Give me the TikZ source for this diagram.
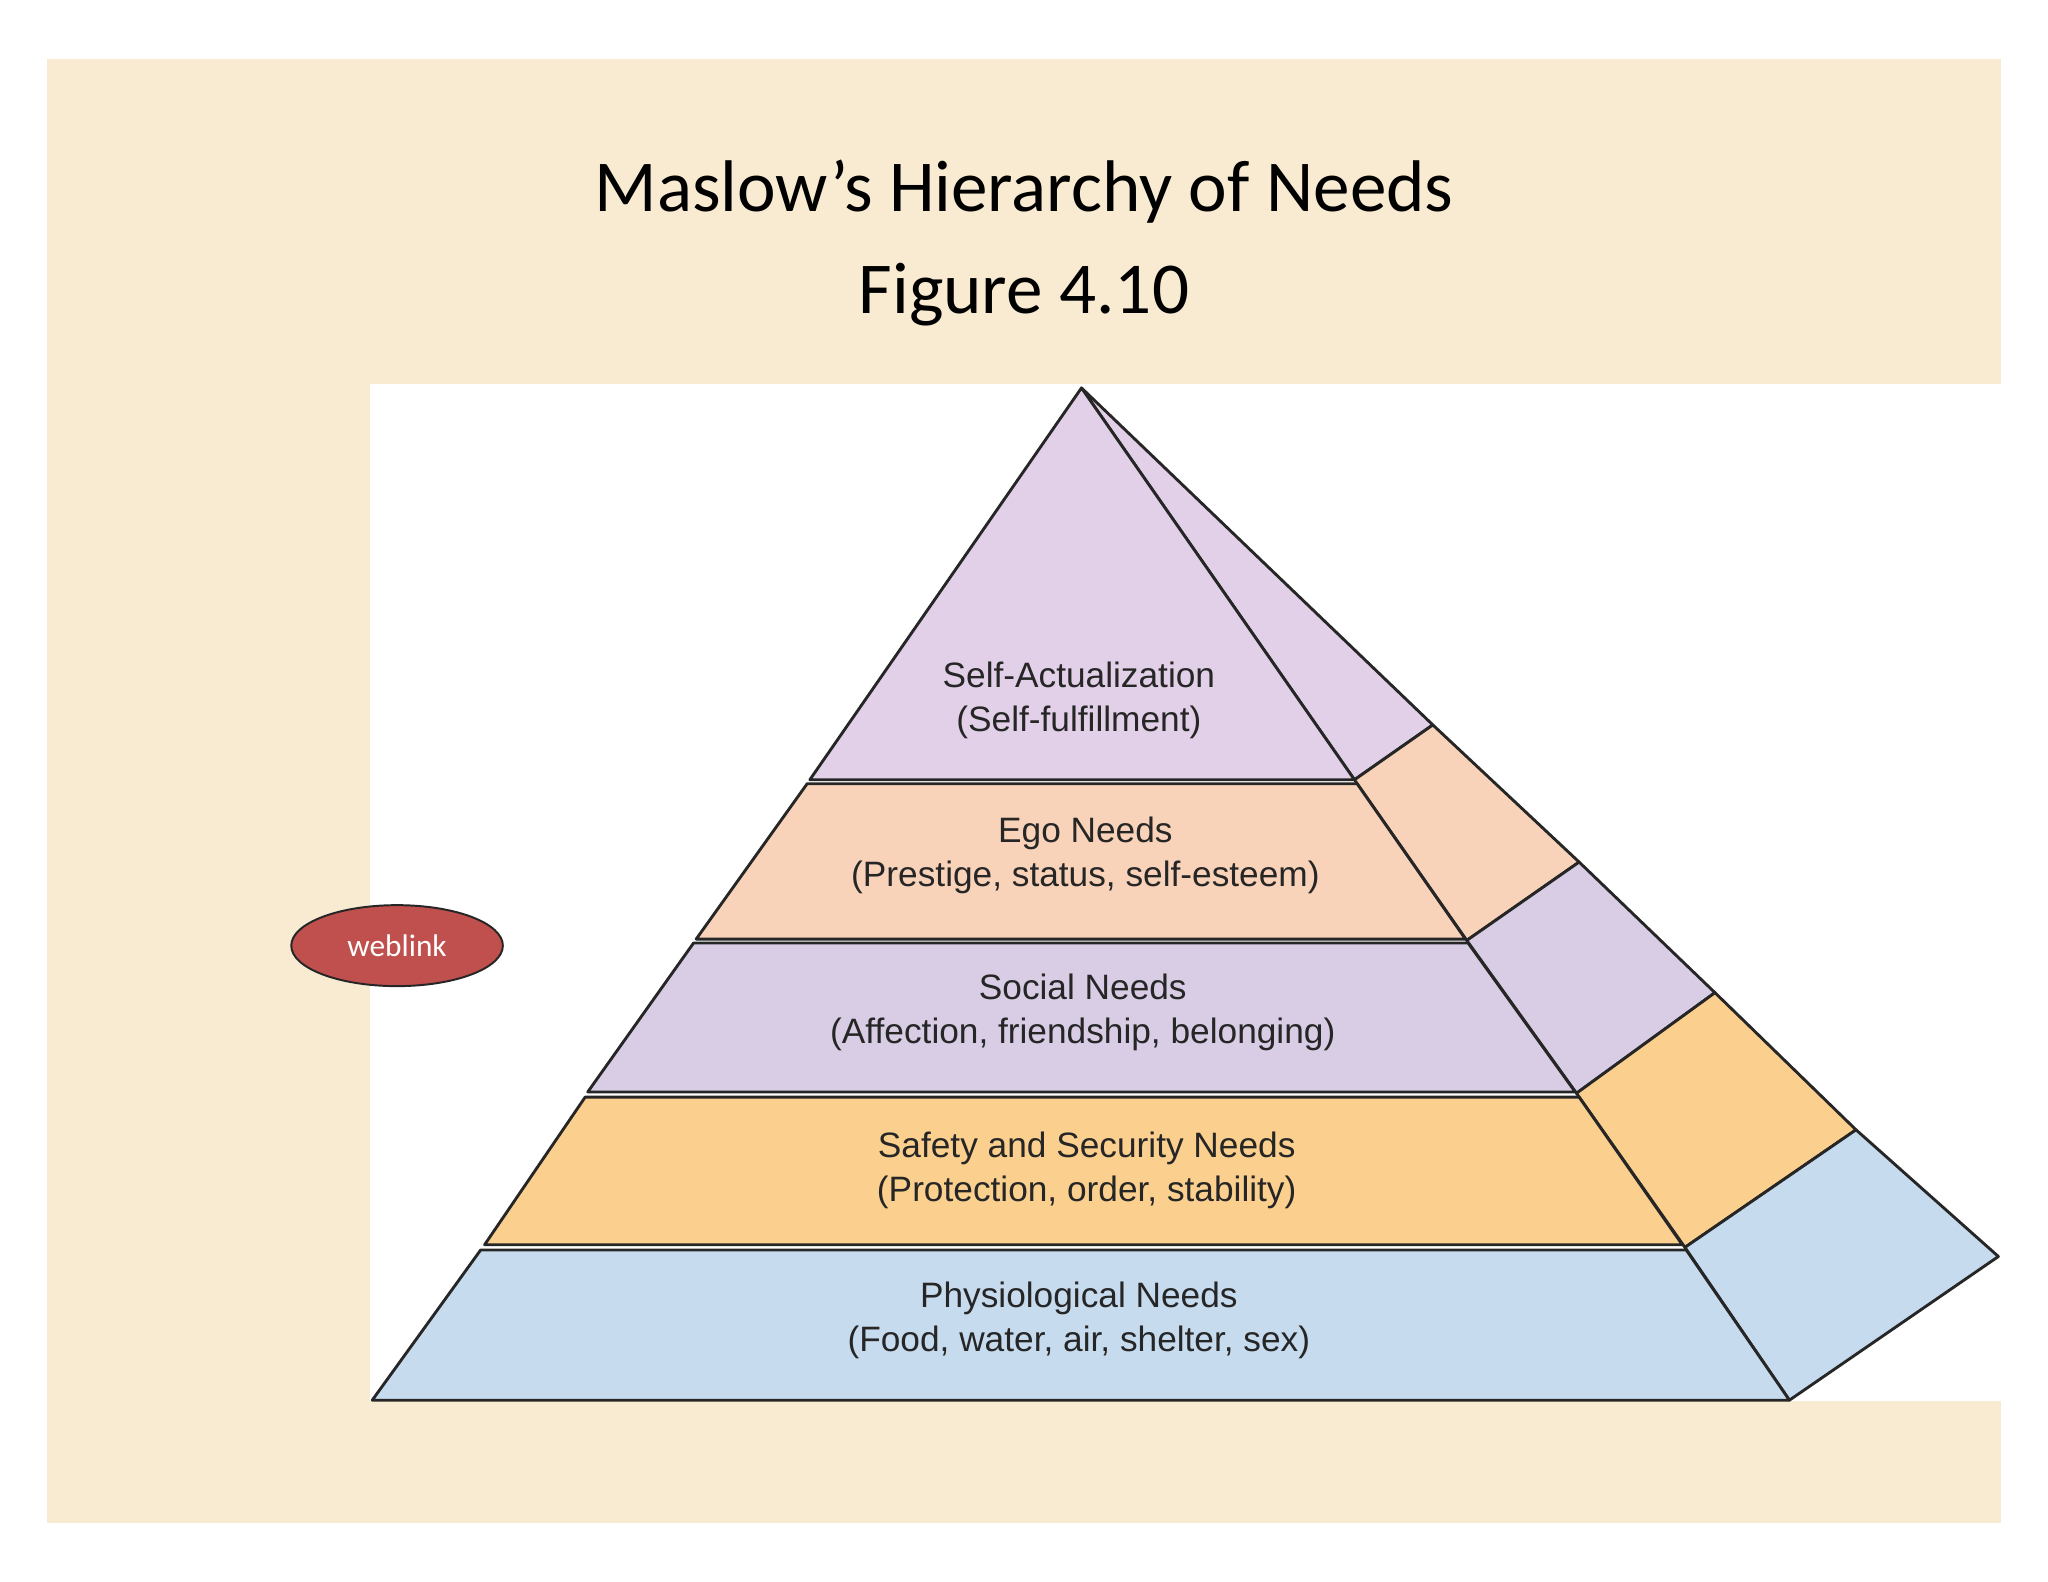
\documentclass[tikz,border=0pt]{standalone}
\usepackage{fontspec}
\usetikzlibrary{shapes.geometric}
\setmainfont{Liberation Sans}
\newfontfamily\calfont{Carlito}
\begin{document}
\begin{tikzpicture}[x=1pt,y=-1pt,
  band/.style={draw=black!85,line width=2.2pt,line join=round},
  lbl/.style={font=\fontsize{27}{34}\selectfont,align=center,text=black!85}]
\definecolor{bg}{HTML}{F8EBD2}
\definecolor{cself}{HTML}{E2D0E8}
\definecolor{cego}{HTML}{F9D3B9}
\definecolor{csoc}{HTML}{D8CDE5}
\definecolor{csaf}{HTML}{FBD08F}
\definecolor{cphy}{HTML}{C7DBEF}
\definecolor{cweb}{HTML}{C0504D}
\useasboundingbox (0,0) rectangle (1568,1211);
\fill[white] (0,0) rectangle (1568,1211);
\fill[bg] (36,45) rectangle (1532,1166);
\fill[white] (283,294) rectangle (1532,1073);
% title
\node[font=\calfont\fontsize{56}{78}\selectfont,align=center] (title) at (784,186) {Maslow’s Hierarchy of Needs\\Figure 4.10};
% side faces
\coordinate (A) at (828,297);
\filldraw[band,fill=cself] (A) -- (1097,555) -- (1037,597) -- cycle;
\filldraw[band,fill=cego] (1037,597) -- (1097,555) -- (1209,660) -- (1123,720) -- cycle;
\filldraw[band,fill=csoc] (1123,720) -- (1209,660) -- (1313,760) -- (1207,837) -- cycle;
\filldraw[band,fill=csaf] (1207,837) -- (1313,760) -- (1421,865) -- (1290,955) -- cycle;
\filldraw[band,fill=cphy] (1290,955) -- (1421,865) -- (1530,962) -- (1370,1072) -- cycle;
% front bands
\filldraw[band,fill=cself] (A) -- (620,597) -- (1037,597) -- cycle;
\filldraw[band,fill=cego] (618,600) -- (1039,600) -- (1122,719) -- (533,719) -- cycle;
\filldraw[band,fill=csoc] (531,722) -- (1124,722) -- (1206,836) -- (450,836) -- cycle;
\filldraw[band,fill=csaf] (448,840) -- (1209,840) -- (1288,953) -- (371,953) -- cycle;
\filldraw[band,fill=cphy] (368,957) -- (1291,957) -- (1370,1072) -- (285,1072) -- cycle;
% labels
\node[lbl] (l1) at (826,536) {Self-Actualization\\(Self-fulfillment)};
\node[lbl] (l2) at (831,655) {Ego Needs\\(Prestige, status, self-esteem)};
\node[lbl] (l3) at (829,775) {Social Needs\\(Affection, friendship, belonging)};
\node[lbl] (l4) at (832,896) {Safety and Security Needs\\(Protection, order, stability)};
\node[lbl] (l5) at (826,1011) {Physiological Needs\\(Food, water, air, shelter, sex)};
% weblink
\node[ellipse,draw=black!85,line width=1.5pt,fill=cweb,minimum width=162,minimum height=62,inner sep=0,text=white,font=\calfont\fontsize{24}{28}\selectfont] (web) at (304,724) {weblink};
\end{tikzpicture}
\end{document}
